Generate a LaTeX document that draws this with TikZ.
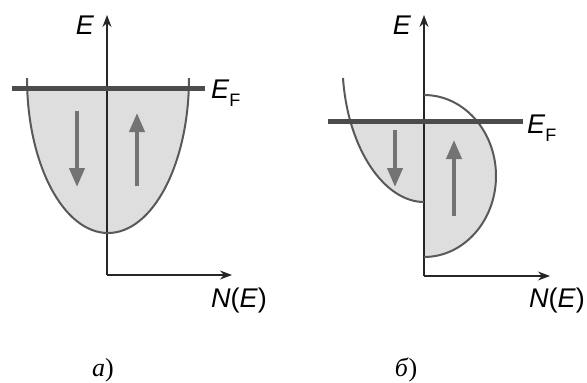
\documentclass[tikz,border=0pt]{standalone}
\usepackage{fontspec}
\setmainfont{Liberation Sans}
\newfontfamily\serifcap{Liberation Serif}
\usetikzlibrary{arrows.meta}
\begin{document}
\begin{tikzpicture}[x=1pt,y=-1pt,
  axis/.style={line width=1.2pt, black!85, -{Stealth[length=12pt,width=9pt]}},
  curve/.style={line width=2pt, black!65},
  fermi/.style={line width=5.5pt, black!70},
  spinarrow/.style={line width=4pt, black!55, -{Triangle[length=19pt,width=15pt]}},
  band/.style={fill=black!13},
  lab/.style={font=\fontsize{27}{30}\selectfont, inner sep=0pt},
  panelcap/.style={font=\serifcap\fontsize{26}{30}\selectfont, inner sep=0pt}]
\useasboundingbox (0,0) rectangle (587,383);

% ---------- panel a ----------
\begin{scope}
  \clip (0,88) rectangle (300,240);
  \fill[band] (108,78) ellipse [x radius=81, y radius=155];
\end{scope}
\coordinate (Oa) at (107,275);
\coordinate (Ya) at (107,15);
\coordinate (Xa) at (232,275);
\draw[axis] (Oa) -- (Ya);
\draw[axis] (Oa) -- (Xa);
\begin{scope}
  \clip (0,78) rectangle (300,240);
  \draw[curve] (108,78) ellipse [x radius=81, y radius=155];
\end{scope}
\coordinate (FaL) at (12,88.5);
\coordinate (FaR) at (205,88.5);
\draw[fermi] (FaL) -- (FaR);
\coordinate (da1) at (77,111); \coordinate (da2) at (77,187);
\coordinate (ua1) at (137,186); \coordinate (ua2) at (137,113);
\draw[spinarrow] (da1) -- (da2);
\draw[spinarrow] (ua1) -- (ua2);
\node[lab, anchor=base] (Ea) at (85,34) {\textit{E}};
\node[lab, anchor=base west] (EFa) at (211,98) {\textit{E}\raisebox{-8pt}{\fontsize{18}{18}\selectfont F}};
\node[lab] (Na) at (239,301) {\textit{N}(\textit{E})};
\node[panelcap] (ca) at (103,370) {\textit{а})};

% ---------- panel b ----------
\begin{scope}
  \clip (300,121) rectangle (587,300);
  \fill[band] (343,78) .. controls (348,150) and (385,202) .. (424,202) -- (424,78) -- cycle;
  \clip (424,0) rectangle (587,300);
  \fill[band] (424,176) ellipse [x radius=72, y radius=81];
\end{scope}
\coordinate (Ob) at (424,276);
\coordinate (Yb) at (424,15);
\coordinate (Xb) at (550,276);
\draw[axis] (Ob) -- (Yb);
\draw[axis] (Ob) -- (Xb);
\draw[curve] (343,78) .. controls (348,150) and (385,202) .. (424,202);
\begin{scope}
  \clip (424,0) rectangle (587,300);
  \draw[curve] (424,176) ellipse [x radius=72, y radius=81];
\end{scope}
\coordinate (FbL) at (328,121.5);
\coordinate (FbR) at (523,121.5);
\draw[fermi] (FbL) -- (FbR);
\coordinate (db1) at (395,130); \coordinate (db2) at (395,187);
\coordinate (ub1) at (454,216); \coordinate (ub2) at (454,140);
\draw[spinarrow] (db1) -- (db2);
\draw[spinarrow] (ub1) -- (ub2);
\node[lab, anchor=base] (Eb) at (402,34) {\textit{E}};
\node[lab, anchor=base west] (EFb) at (527,133) {\textit{E}\raisebox{-8pt}{\fontsize{18}{18}\selectfont F}};
\node[lab] (Nb) at (557,301) {\textit{N}(\textit{E})};
\node[panelcap] (cb) at (406,370) {\textit{б})};
\end{tikzpicture}
\end{document}
